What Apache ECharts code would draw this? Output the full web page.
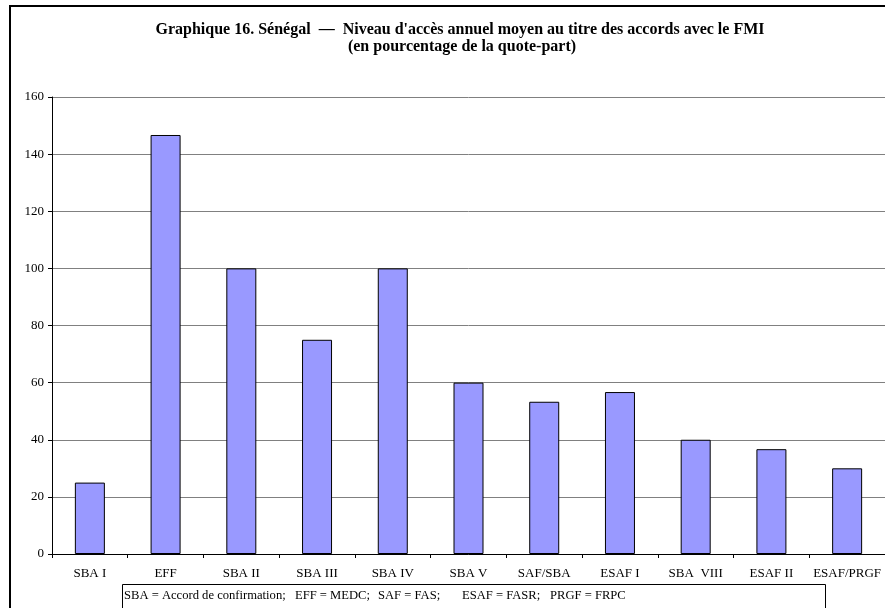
<!DOCTYPE html>
<html>
<head>
<meta charset="utf-8">
<script src="https://cdn.jsdelivr.net/npm/echarts@6/dist/echarts.min.js"></script>
<style>html,body{margin:0;padding:0;background:#fff}#c{width:885px;height:608px}</style>
</head>
<body>
<div id="c"></div>
<script>
var categories = ['SBA I','EFF','SBA II','SBA III','SBA IV','SBA V','SAF/SBA','ESAF I','SBA  VIII','ESAF II','ESAF/PRGF'];
var values = [25, 146.7, 100, 75, 100, 60, 53.3, 56.7, 40, 36.7, 30];
var titleLine1 = "Graphique 16. Sénégal  \u2014  Niveau d'accès annuel moyen au titre des accords avec le FMI";
var titleLine2 = "(en pourcentage de la quote-part)";
var noteParts = ["SBA = Accord de confirmation;", "EFF = MEDC;", "SAF = FAS;", "ESAF = FASR;", "PRGF = FRPC"];

var chart = echarts.init(document.getElementById('c'), null, {renderer:'canvas'});
var serif = 'Liberation Serif, Times New Roman, serif';
var notePos = [124, 295, 378, 462, 550];
var graphics = [
  {type: 'rect', shape: {x: 10, y: 6, width: 1000, height: 1000}, style: {fill: 'none', stroke: '#000', lineWidth: 2}, z: -1, silent: true},
  {type: 'text', x: 460, y: 30, style: {text: titleLine1, font: 'bold 16px ' + serif, fill: '#000', textAlign: 'center', textVerticalAlign: 'middle'}},
  {type: 'text', x: 462, y: 47, style: {text: titleLine2, font: 'bold 16px ' + serif, fill: '#000', textAlign: 'center', textVerticalAlign: 'middle'}},
  {type: 'rect', shape: {x: 122.5, y: 584.5, width: 703, height: 100}, style: {fill: '#fff', stroke: '#000', lineWidth: 1}, z: 10}
];
noteParts.forEach(function (t, i) {
  graphics.push({type: 'text', x: notePos[i], y: 596, z: 11, style: {text: t, font: '12.6px ' + serif, fill: '#000', textAlign: 'left', textVerticalAlign: 'middle'}});
});
chart.setOption({
  animation: false,
  backgroundColor: '#fff',
  grid: {left: 52, top: 97, right: -3, bottom: 54, containLabel: false},
  xAxis: {
    type: 'category',
    data: categories,
    boundaryGap: true,
    axisLine: {lineStyle: {color: '#000', width: 1}},
    axisTick: {show: true, alignWithLabel: false, length: 4, lineStyle: {color: '#000'}},
    axisLabel: {color: '#000', fontFamily: serif, fontSize: 13, margin: 13, interval: 0},
    splitLine: {show: false}
  },
  yAxis: {
    type: 'value',
    min: 0, max: 160, interval: 20,
    axisLine: {show: true, lineStyle: {color: '#000', width: 1}},
    axisTick: {show: true, length: 4, inside: false, lineStyle: {color: '#000'}},
    axisLabel: {color: '#000', fontFamily: serif, fontSize: 13, margin: 8},
    splitLine: {show: true, lineStyle: {color: '#808080', width: 1}}
  },
  series: [{
    type: 'bar',
    data: values,
    barWidth: 30,
    itemStyle: {color: '#9999FF', borderColor: '#000', borderWidth: 1}
  }],
  graphic: graphics
});
</script>
</body>
</html>
